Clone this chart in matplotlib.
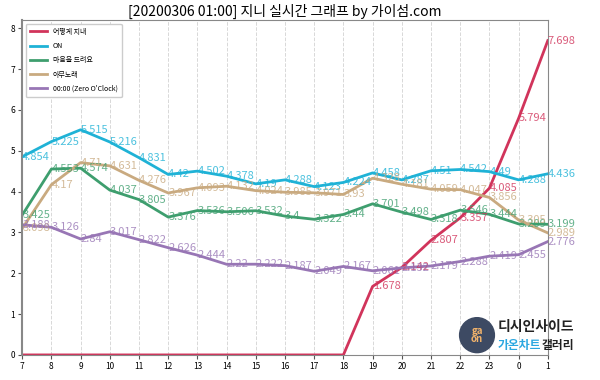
import matplotlib
matplotlib.use("Agg")
import matplotlib.pyplot as plt
from matplotlib.patches import Ellipse

plt.rcParams['font.family'] = ['Noto Sans CJK KR', 'DejaVu Sans']

hours = ['7', '8', '9', '10', '11', '12', '13', '14', '15', '16', '17', '18',
         '19', '20', '21', '22', '23', '0', '1']

song_names = ['어떻게 지내', 'ON', '마음을 드려요', '아무노래', '00:00 (Zero O\'Clock)']

how_are_you = [0, 0, 0, 0, 0, 0, 0, 0, 0, 0, 0, 0,
               1.678, 2.142, 2.807, 3.357, 4.085, 5.794, 7.698]
on = [4.854, 5.225, 5.515, 5.216, 4.831, 4.42, 4.502, 4.378, 4.19, 4.288, 4.123, 4.224,
      4.458, 4.287, 4.51, 4.542, 4.49, 4.288, 4.436]
heart = [3.425, 4.553, 4.574, 4.037, 3.805, 3.376, 3.536, 3.506, 3.532, 3.4, 3.322, 3.44,
         3.701, 3.498, 3.318, 3.546, 3.444, 3.209, 3.199]
any_song = [3.098, 4.17, 4.71, 4.631, 4.276, 3.967, 4.093, 4.132, 4.024, 3.985, 3.971, 3.93,
            4.328, 4.181, 4.059, 4.047, 3.856, 3.305, 2.989]
zero_oclock = [3.188, 3.126, 2.84, 3.017, 2.822, 2.626, 2.444, 2.22, 2.222, 2.187, 2.049, 2.167,
               2.061, 2.132, 2.179, 2.288, 2.419, 2.455, 2.776]

series = [how_are_you, on, heart, any_song, zero_oclock]
colors = ['#d1345b', '#1fb2d6', '#3e9e6e', '#c9aa80', '#9876b5']

fig = plt.figure(figsize=(6, 3.8), dpi=100)
ax = fig.add_axes([0.037, 0.066, 0.876, 0.881])

x = list(range(len(hours)))
for vals, name, col in zip(series, song_names, colors):
    ax.plot(x, vals, color=col, lw=2, label=name)
    for xi, v in zip(x, vals):
        if v == 0:
            continue
        ax.text(xi, v, str(v), color=col, alpha=0.8, fontsize=8,
                ha='left', va='center')

ax.set_xlim(0, len(hours) - 1)
ax.set_ylim(0, 8.2)
ax.set_xticks(x)
ax.set_xticklabels(hours)
ax.set_yticks(range(9))
ax.tick_params(labelsize=6, length=3, color='#555555', pad=2)
ax.grid(axis='x', color='#d8d8d8', ls='--', lw=0.7)
for s in ax.spines.values():
    s.set_color('#888888')
ax.spines['left'].set_linewidth(1.5)

ax.set_title('[20200306 01:00] 지니 실시간 그래프 by 가이섬.com', fontsize=10, pad=3)
ax.legend(loc='upper left', fontsize=5, handlelength=2.5, framealpha=1,
          borderpad=0.6, labelspacing=0.9)

# watermark logo
fig.patches.append(Ellipse((0.795, 0.118), 0.058, 0.092, transform=fig.transFigure,
                           color='#3d4a63', zorder=5))
fig.text(0.795, 0.118, 'ga\non', color='#f2b36b', fontsize=7, ha='center', va='center',
         fontweight='bold', linespacing=0.8, zorder=6)
fig.text(0.83, 0.14, '디시인사이드', fontsize=10, ha='left', va='center',
         color='#222222', fontweight='bold', zorder=6)
fig.text(0.83, 0.092, '가온차트', fontsize=8.5, ha='left', va='center',
         color='#2aa7e0', fontweight='bold', zorder=6)
fig.text(0.903, 0.092, '갤러리', fontsize=8.5, ha='left', va='center',
         color='#222222', fontweight='bold', zorder=6)

fig.savefig('out.png', dpi=100)
